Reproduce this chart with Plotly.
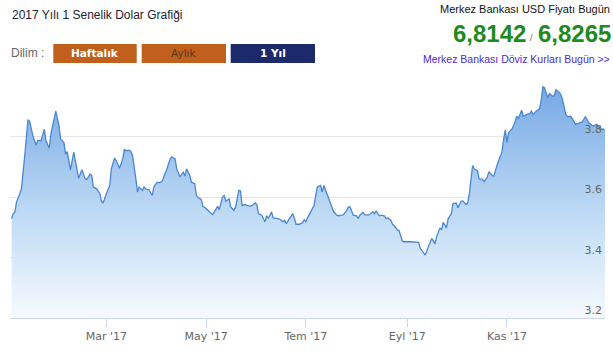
import plotly.graph_objects as go

dates = [
"2017-01-02","2017-01-03","2017-01-04","2017-01-05","2017-01-07","2017-01-08","2017-01-10","2017-01-12","2017-01-13","2017-01-15",
"2017-01-17","2017-01-18","2017-01-20","2017-01-21","2017-01-22","2017-01-23","2017-01-25","2017-01-26","2017-01-29","2017-01-31",
"2017-02-01","2017-02-03","2017-02-04","2017-02-05","2017-02-07","2017-02-09","2017-02-11","2017-02-12","2017-02-14","2017-02-16",
"2017-02-17","2017-02-19","2017-02-20","2017-02-21","2017-02-23","2017-02-25","2017-02-26","2017-02-27","2017-03-01","2017-03-03",
"2017-03-04","2017-03-06","2017-03-07","2017-03-09","2017-03-11","2017-03-12","2017-03-13","2017-03-15","2017-03-16","2017-03-17",
"2017-03-19","2017-03-20","2017-03-21","2017-03-23","2017-03-24","2017-03-25","2017-03-27","2017-03-29","2017-03-30","2017-04-01",
"2017-04-02","2017-04-04","2017-04-07","2017-04-09","2017-04-10","2017-04-12","2017-04-13","2017-04-15","2017-04-16","2017-04-17",
"2017-04-18","2017-04-19","2017-04-21","2017-04-22","2017-04-24","2017-04-25","2017-04-26","2017-04-28","2017-04-29","2017-05-01",
"2017-05-03","2017-05-05","2017-05-06","2017-05-08","2017-05-09","2017-05-11","2017-05-12","2017-05-13","2017-05-15","2017-05-16",
"2017-05-18","2017-05-19","2017-05-21","2017-05-22","2017-05-23","2017-05-25","2017-05-26","2017-05-28","2017-05-30","2017-05-31",
"2017-06-01","2017-06-02","2017-06-04","2017-06-06","2017-06-07","2017-06-08","2017-06-10","2017-06-11","2017-06-13","2017-06-15",
"2017-06-17","2017-06-18","2017-06-19","2017-06-21","2017-06-23","2017-06-24","2017-06-25","2017-06-27","2017-06-29","2017-06-30",
"2017-07-01","2017-07-02","2017-07-04","2017-07-06","2017-07-07","2017-07-08","2017-07-10","2017-07-11","2017-07-12","2017-07-14",
"2017-07-16","2017-07-17","2017-07-18","2017-07-20","2017-07-21","2017-07-23","2017-07-24","2017-07-26","2017-07-27","2017-07-28",
"2017-07-30","2017-08-01","2017-08-02","2017-08-03","2017-08-05","2017-08-06","2017-08-08","2017-08-09","2017-08-11","2017-08-12",
"2017-08-13","2017-08-15","2017-08-16","2017-08-18","2017-08-19","2017-08-20","2017-08-22","2017-08-23","2017-08-24","2017-08-26",
"2017-08-27","2017-08-29","2017-08-30","2017-09-03","2017-09-05","2017-09-08","2017-09-09","2017-09-11","2017-09-12","2017-09-14",
"2017-09-15","2017-09-16","2017-09-18","2017-09-19","2017-09-21","2017-09-22","2017-09-23","2017-09-25","2017-09-26","2017-09-28",
"2017-09-29","2017-10-01","2017-10-02","2017-10-04","2017-10-05","2017-10-07","2017-10-08","2017-10-09","2017-10-11","2017-10-12",
"2017-10-14","2017-10-15","2017-10-17","2017-10-18","2017-10-20","2017-10-21","2017-10-23","2017-10-24","2017-10-26","2017-10-27",
"2017-10-29","2017-10-30","2017-10-31","2017-11-01","2017-11-02","2017-11-04","2017-11-06","2017-11-07","2017-11-08","2017-11-10",
"2017-11-11","2017-11-13","2017-11-15","2017-11-16","2017-11-17","2017-11-19","2017-11-21","2017-11-22","2017-11-23","2017-11-24",
"2017-11-26","2017-11-27","2017-11-29","2017-11-30","2017-12-01","2017-12-03","2017-12-04","2017-12-05","2017-12-07","2017-12-08",
"2017-12-10","2017-12-11","2017-12-13","2017-12-15","2017-12-16","2017-12-17","2017-12-19","2017-12-20","2017-12-21","2017-12-23",
"2017-12-24","2017-12-26","2017-12-27","2017-12-29","2017-12-30","2017-12-31",
]

usd = [
3.529,3.545,3.550,3.584,3.611,3.627,3.736,3.854,3.851,3.802,
3.771,3.788,3.786,3.802,3.824,3.786,3.761,3.808,3.884,3.835,
3.791,3.780,3.742,3.750,3.690,3.748,3.693,3.662,3.690,3.660,
3.658,3.676,3.671,3.633,3.627,3.611,3.584,3.581,3.611,3.638,
3.693,3.729,3.720,3.695,3.726,3.758,3.753,3.755,3.750,3.736,
3.660,3.616,3.633,3.622,3.633,3.627,3.624,3.605,3.633,3.649,
3.647,3.651,3.693,3.726,3.733,3.726,3.693,3.666,3.676,3.682,
3.669,3.693,3.671,3.649,3.644,3.605,3.598,3.592,3.569,3.562,
3.551,3.542,3.551,3.569,3.558,3.600,3.605,3.586,3.594,3.567,
3.556,3.567,3.622,3.620,3.572,3.575,3.572,3.569,3.575,3.581,
3.575,3.545,3.540,3.518,3.538,3.529,3.551,3.531,3.529,3.527,
3.518,3.523,3.512,3.529,3.545,3.529,3.510,3.510,3.515,3.525,
3.518,3.531,3.551,3.572,3.605,3.633,3.638,3.616,3.638,3.611,
3.578,3.567,3.551,3.540,3.538,3.540,3.542,3.556,3.567,3.567,
3.540,3.538,3.529,3.540,3.549,3.542,3.540,3.542,3.551,3.545,
3.553,3.538,3.540,3.538,3.529,3.531,3.523,3.510,3.505,3.491,
3.489,3.454,3.452,3.452,3.452,3.450,3.430,3.417,3.408,3.436,
3.447,3.463,3.445,3.469,3.498,3.491,3.516,3.498,3.527,3.545,
3.578,3.580,3.564,3.586,3.587,3.575,3.580,3.611,3.704,3.693,
3.687,3.660,3.658,3.651,3.666,3.684,3.671,3.669,3.706,3.720,
3.750,3.791,3.822,3.780,3.813,3.824,3.848,3.867,3.859,3.887,
3.866,3.873,3.876,3.884,3.873,3.884,3.892,3.922,3.964,3.961,
3.928,3.942,3.933,3.935,3.955,3.946,3.939,3.922,3.873,3.866,
3.867,3.859,3.840,3.844,3.846,3.848,3.866,3.855,3.846,3.837,
3.835,3.840,3.833,3.824,3.824,3.820,
]

tick_dates = ["2017-03-01", "2017-05-01", "2017-07-01", "2017-09-01", "2017-11-01"]
tick_labels = ["Mar '17", "May '17", "Tem '17", "Eyl '17", "Kas '17"]
y_ticks = [3.2, 3.4, 3.6, 3.8, 4.0]
y_labels = ["3.2", "3.4", "3.6", "3.8", ""]

W, H = 613, 353
L, R, T, B = 10, 8, 76, 35
PW, PH = W - L - R, H - T - B

def px(x):
    return (x - L) / PW

def py(y):
    return (H - B - y) / PH

fig = go.Figure()
fig.add_trace(go.Scatter(
    x=dates, y=usd, mode="lines",
    line=dict(color="#4a87d3", width=1.3),
    fill="tozeroy",
    fillgradient=dict(type="vertical", start=3.2, stop=3.97,
                      colorscale=[[0, "rgb(246,250,254)"], [0.45, "rgb(190,218,245)"], [1, "rgb(118,168,228)"]]),
    hoverinfo="x+y", showlegend=False,
))

shapes = []
buttons = [
    (53.3, 136.7, "#c0601c", "Haftalık", "white", True),
    (141.7, 226, "#c0601c", "Aylık", "#55382a", False),
    (230.7, 315, "#1c2a6c", "1 Yıl", "white", True),
]
annotations = []
for x0, x1, col, txt, tcol, bold in buttons:
    shapes.append(dict(type="rect", xref="paper", yref="paper",
                       x0=px(x0), x1=px(x1), y0=py(63), y1=py(44),
                       fillcolor=col, line=dict(width=0), layer="above"))
    annotations.append(dict(xref="paper", yref="paper", x=px((x0 + x1) / 2), y=py(53.5),
                            text=(f"<b>{txt}</b>" if bold else txt), showarrow=False,
                            xanchor="center", yanchor="middle",
                            font=dict(family="DejaVu Sans", size=10.5, color=tcol)))

annotations += [
    dict(xref="paper", yref="paper", x=px(10), y=py(15), text="2017 Yılı 1 Senelik Dolar Grafiği",
         showarrow=False, xanchor="left", yanchor="middle",
         font=dict(family="Liberation Sans", size=12, color="#222233")),
    dict(xref="paper", yref="paper", x=px(9), y=py(53), text="Dilim :",
         showarrow=False, xanchor="left", yanchor="middle",
         font=dict(family="Liberation Sans", size=12, color="#666666")),
    dict(xref="paper", yref="paper", x=px(612), y=py(9), text="Merkez Bankası USD Fiyatı Bugün",
         showarrow=False, xanchor="right", yanchor="middle",
         font=dict(family="Liberation Sans", size=11, color="#111111")),
    dict(xref="paper", yref="paper", x=px(528), y=py(33), text="<b>6,8142</b>",
         showarrow=False, xanchor="right", yanchor="middle",
         font=dict(family="Liberation Sans", size=24, color="#1e8a1e")),
    dict(xref="paper", yref="paper", x=px(531.5), y=py(38), text="/",
         showarrow=False, xanchor="center", yanchor="middle",
         font=dict(family="Liberation Sans", size=9, color="#666666")),
    dict(xref="paper", yref="paper", x=px(536), y=py(33), text="<b>6,8265</b>",
         showarrow=False, xanchor="left", yanchor="middle",
         font=dict(family="Liberation Sans", size=24, color="#1e8a1e")),
    dict(xref="paper", yref="paper", x=px(612), y=py(59), text="Merkez Bankası Döviz Kurları Bugün >>",
         showarrow=False, xanchor="right", yanchor="middle",
         font=dict(family="Liberation Sans", size=10.5, color="#4b2bd0")),
]

fig.update_layout(
    width=W, height=H,
    margin=dict(l=L, r=R, t=T, b=B, pad=0),
    paper_bgcolor="white", plot_bgcolor="white",
    shapes=shapes, annotations=annotations,
    xaxis=dict(range=["2017-01-01", "2017-12-31"], tickvals=tick_dates, ticktext=tick_labels,
               showgrid=False, showline=True, linecolor="#ccd6eb", linewidth=1,
               ticks="outside", ticklen=8, tickcolor="#ccd6eb",
               tickfont=dict(family="DejaVu Sans", size=11, color="#666666"), zeroline=False),
    yaxis=dict(range=[3.2, 4.0], tickvals=y_ticks, ticktext=y_labels, side="right",
               ticklabelposition="inside top", showgrid=True, gridcolor="#e6e6e6", gridwidth=1,
               zeroline=False, showline=False, ticks="",
               tickfont=dict(family="DejaVu Sans", size=11, color="#666666")),
)

fig.write_html("out.html")
